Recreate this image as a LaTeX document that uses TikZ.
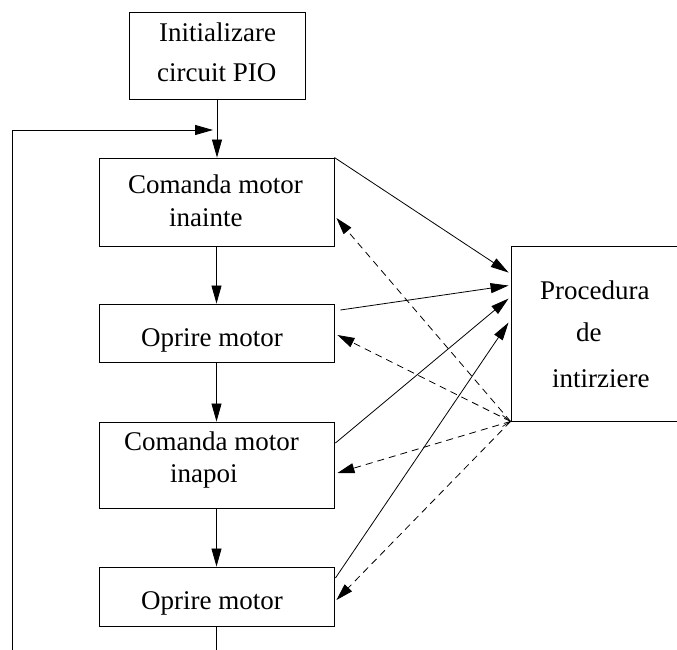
\documentclass[tikz,border=0pt]{standalone}
\usepackage{fontspec}
\setmainfont{Liberation Serif}
\usetikzlibrary{arrows.meta,calc}

\tikzset{
  box/.style={draw, line width=0.9pt, inner sep=0pt},
  label/.style={anchor=base west, inner sep=0pt, font=\fontsize{27}{32}\selectfont},
  flow/.style={line width=0.8pt, -{Triangle[length=18pt,width=10pt]}},
  dashflow/.style={line width=0.8pt, dash pattern=on 7pt off 5pt,
                   -{Triangle[length=17pt,width=10pt]}}
}

\begin{document}
\begin{tikzpicture}[x=1pt,y=-1pt]
\useasboundingbox (0,0) rectangle (677,650);

% boxes of the flowchart
\node[box, minimum width=176pt, minimum height=87pt] (init)  at (217,55.5)  {};
\node[box, minimum width=235pt, minimum height=88pt] (fwd)   at (216.5,202) {};
\node[box, minimum width=235pt, minimum height=58pt] (stopA) at (216.5,333) {};
\node[box, minimum width=235pt, minimum height=86pt] (back)  at (216.5,465) {};
\node[box, minimum width=235pt, minimum height=59pt] (stopB) at (216.5,596.5) {};
\node[box, minimum width=200pt, minimum height=175pt] (delay) at (611,333.5) {};

% texts
\node[label] (t1a) at (159,42)  {Initializare};
\node[label] (t1b) at (157,82)  {circuit PIO};
\node[label] (t2a) at (128,193) {Comanda motor};
\node[label] (t2b) at (169,226) {inainte};
\node[label] (t3)  at (141,346) {Oprire motor};
\node[label] (t4a) at (124,450) {Comanda motor};
\node[label] (t4b) at (170,482) {inapoi};
\node[label] (t5)  at (141,609) {Oprire motor};
\node[label] (t6a) at (540,299) {Procedura};
\node[label] (t6b) at (576,341) {de};
\node[label] (t6c) at (552,387) {intirziere};

% main sequence
\draw[flow] (init.south) -- (fwd.north -| init.south);
\draw[flow] (fwd.south) -- (stopA.north);
\draw[flow] (stopA.south) -- (back.north);
\draw[flow] (back.south) -- (stopB.north);
\coordinate (tail) at (216.5,660);
\draw[line width=0.8pt] (stopB.south) -- (tail);

% return loop
\coordinate (loopstart) at (12,660);
\coordinate (loopin) at (213,130);
\draw[flow] (loopstart) |- (loopin);

% calls of the delay routine
\draw[flow] (fwd.north east) -- ($(delay.north west)+(-2,27)$);
\draw[flow] ($(stopA.east)+(6,-23)$) -- ($(delay.north west)+(-2,40)$);
\draw[flow] ($(back.east)+(1,-22)$) -- ($(delay.north west)+(-2,53)$);
\draw[flow] ($(stopB.east)+(1,-18.5)$) -- ($(delay.north west)+(-2,77)$);

% returns from the delay routine
\coordinate (ret) at (delay.south west);
\draw[dashflow] (ret) -- ($(fwd.east)+(2,16)$);
\draw[dashflow] (ret) -- ($(stopA.east)+(3,2)$);
\draw[dashflow] (ret) -- ($(back.east)+(3,8)$);
\draw[dashflow] (ret) -- ($(stopB.east)+(2,3.5)$);
\draw[line width=0.7pt] ($(ret)+(-8,-6)$) -- (ret) -- ($(ret)+(-8,5)$);
\end{tikzpicture}
\end{document}
